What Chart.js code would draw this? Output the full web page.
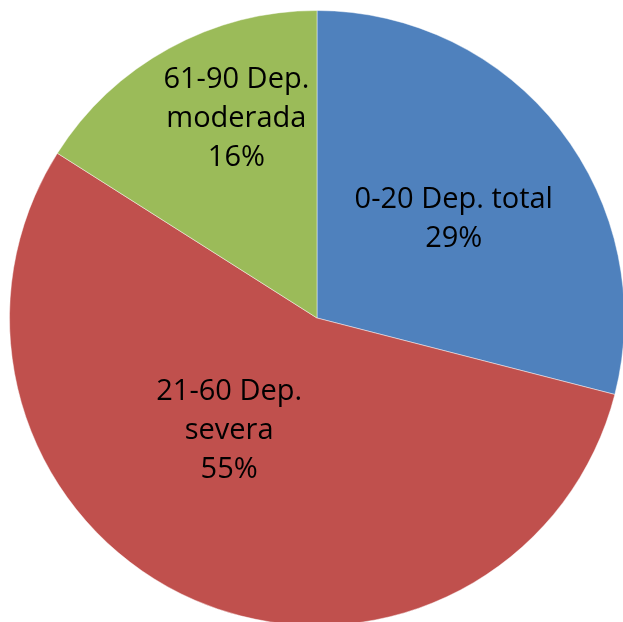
<!DOCTYPE html>
<html>
<head>
<meta charset="utf-8">
<script src="https://cdn.jsdelivr.net/npm/chart.js@4"></script>
<style>
    html, body { margin: 0; padding: 0; background: #fff; overflow: hidden; }
    #pie { display: block; }
</style>
</head>
<body>
<canvas id="pie" width="634" height="636"></canvas>
<script>
// Dependency groups (Barthel score ranges) and their share
const categories = [
    ['0-20 Dep. total'],
    ['21-60 Dep.', 'severa'],
    ['61-90 Dep.', 'moderada']
];
const values = [29, 55, 16];
const colors = ['#4F81BD', '#C0504D', '#9BBB59'];

// where each label sits: fraction of radius, degrees past the slice middle
const labelSpots = [
    { r: 0.549, turn: 1.9 },
    { r: 0.465, turn: 14.5 },
    { r: 0.70, turn: 6.8 }
];

const sliceLabels = {
    id: 'sliceLabels',
    afterDatasetsDraw(chart) {
        const ctx = chart.ctx;
        const meta = chart.getDatasetMeta(0);
        const total = values.reduce((a, b) => a + b, 0);
        ctx.save();
        ctx.fillStyle = '#000';
        ctx.font = '29px "Open Sans"';
        ctx.textAlign = 'center';
        ctx.textBaseline = 'middle';
        const lineH = 39;
        meta.data.forEach((arc, i) => {
            const p = arc.getProps(['x', 'y', 'startAngle', 'endAngle', 'outerRadius'], true);
            const spot = labelSpots[i];
            const a = (p.startAngle + p.endAngle) / 2 + spot.turn * Math.PI / 180;
            const cx = p.x + Math.cos(a) * p.outerRadius * spot.r;
            const cy = p.y + Math.sin(a) * p.outerRadius * spot.r;
            const lines = categories[i].concat([Math.round(values[i] / total * 100) + '%']);
            const top = cy - (lines.length - 1) * lineH / 2;
            lines.forEach((t, k) => ctx.fillText(t, cx, top + k * lineH));
        });
        ctx.restore();
    }
};

new Chart(document.getElementById('pie').getContext('2d'), {
    type: 'pie',
    data: {
        labels: categories,
        datasets: [{
            data: values,
            backgroundColor: colors,
            borderColor: 'rgba(255,255,255,0.45)',
            borderWidth: 1
        }]
    },
    options: {
        responsive: false,
        animation: false,
        layout: { padding: 9 },
        plugins: {
            legend: { display: false },
            tooltip: { enabled: false }
        }
    },
    plugins: [sliceLabels]
});
</script>
</body>
</html>
